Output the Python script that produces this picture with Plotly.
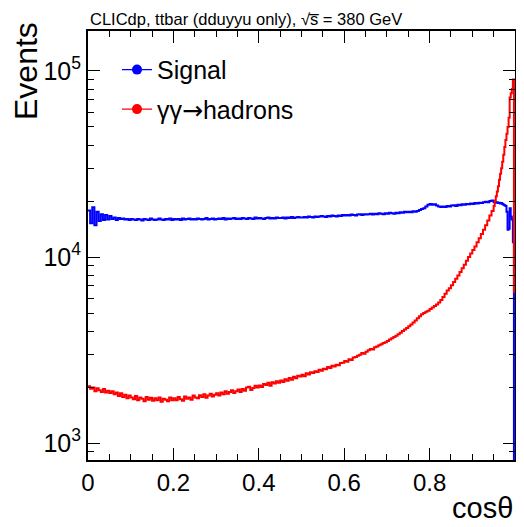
import numpy as np
import plotly.graph_objects as go

# ---- data -------------------------------------------------------------
# bin lower edges: 0.000-0.950 in steps of 0.005, then 0.950-1.000 in steps of 0.0025
bin_lo_coarse = [round(i * 0.005, 4) for i in range(190)]
bin_lo_fine = [round(0.95 + i * 0.0025, 4) for i in range(20)]
x_max = 1.0

signal_coarse = [
    17800, 15200, 18500, 14800, 17500, 15600, 17000, 15800, 16800, 15900,
    16600, 16000, 16300, 15800, 16200, 16000, 16100, 15900, 16000, 15800,
    16000, 15900, 15800, 16000, 15900, 15700, 16000, 15900, 15800, 16100,
    15900, 15800, 15900, 16100, 15900, 15800, 16000, 15900, 16100, 15800,
    16000, 15900, 16000, 15800, 16100, 15900, 16000, 16100, 15900, 16000,
    15900, 16100, 16000, 15900, 16000, 16200, 15900, 16000, 16100, 15900,
    16000, 16100, 16000, 16200, 15900, 16100, 16000, 16100, 16200, 16000,
    16100, 16000, 16200, 16100, 16000, 16200, 16100, 16000, 16300, 16100,
    16200, 16100, 16000, 16200, 16300, 16100, 16200, 16100, 16300, 16200,
    16200, 16300, 16100, 16300, 16200, 16400, 16200, 16300, 16400, 16300,
    16300, 16400, 16300, 16500, 16400, 16300, 16500, 16400, 16500, 16600,
    16500, 16400, 16600, 16500, 16700, 16600, 16500, 16700, 16600, 16800,
    16700, 16800, 16700, 16900, 16800, 16700, 16900, 17000, 16800, 17000,
    16900, 17000, 17100, 16900, 17100, 17000, 17200, 17100, 17000, 17200,
    17100, 17300, 17200, 17100, 17300, 17200, 17400, 17300, 17500, 17400,
    17500, 17400, 17600, 17500, 17700, 17900, 18100, 18300, 18700, 19100,
    19300, 19100, 19200, 18900, 18700, 18600, 18700, 18600, 18800, 18700,
    18900, 19000, 18800, 19100, 19000, 19200, 19100, 19300, 19200, 19400,
    19300, 19500, 19400, 19600, 19500, 19700, 19800, 19700, 20000, 20100,
]
signal_fine = [
    19700, 19800, 19600, 19700, 19500, 19600, 19400, 19500, 19300, 19100,
    19000, 18800, 17500, 14000, 14200, 18300, 16500, 15900, 12000, 300,
]

bkg_coarse = [
    2020, 1960, 1990, 1900, 1970, 1920, 1880, 1950, 1870, 1910,
    1860, 1900, 1830, 1870, 1790, 1850, 1770, 1820, 1740, 1800,
    1760, 1720, 1790, 1700, 1760, 1730, 1680, 1770, 1710, 1750,
    1690, 1740, 1700, 1760, 1670, 1730, 1710, 1680, 1760, 1700,
    1740, 1700, 1770, 1720, 1690, 1780, 1730, 1760, 1710, 1800,
    1760, 1740, 1810, 1770, 1830, 1750, 1800, 1840, 1780, 1820,
    1850, 1800, 1870, 1830, 1900, 1840, 1880, 1920, 1860, 1900,
    1940, 1880, 1950, 1910, 1990, 2010, 1930, 1980, 2030, 1990,
    2040, 2000, 2080, 2050, 2110, 2030, 2120, 2090, 2150, 2110,
    2170, 2130, 2200, 2160, 2240, 2190, 2270, 2230, 2300, 2280,
    2330, 2290, 2370, 2340, 2400, 2380, 2430, 2410, 2480, 2450,
    2510, 2490, 2560, 2530, 2600, 2580, 2640, 2620, 2690, 2700,
    2760, 2740, 2820, 2800, 2880, 2900, 2950, 2980, 3050, 3020,
    3100, 3150, 3200, 3180, 3270, 3300, 3360, 3400, 3450, 3480,
    3540, 3600, 3660, 3720, 3780, 3850, 3920, 4000, 4080, 4150,
    4250, 4340, 4450, 4560, 4680, 4800, 4920, 5000, 5080, 5150,
    5250, 5350, 5450, 5560, 5700, 5880, 6100, 6350, 6600, 6800,
    7050, 7350, 7650, 7950, 8300, 8700, 9100, 9550, 10000, 10450,
    10900, 11400, 12000, 12600, 13300, 14000, 14800, 15700, 16700, 17700,
]
bkg_fine = [
    18800, 20000, 21200, 22500, 24000, 26000, 28000, 30000, 32500, 35500,
    39000, 42500, 46000, 50000, 56000, 72000, 76000, 80000, 90000, 6500,
]

x_tickvals = [0, 0.2, 0.4, 0.6, 0.8, 1.0]
y_tickvals = [1e3, 1e4, 1e5]
y_ticktext = ["10<sup>3</sup>", "10<sup>4</sup>", "10<sup>5</sup>"]
y_minor = [m * 10 ** e for e in (2, 3, 4, 5) for m in range(2, 10)]

series_names = ["Signal",
                "γγ<span style='font-family:DejaVu Sans'>→</span>hadrons"]
series_colors = ["#0000ff", "#ff0000"]

# ---- build ------------------------------------------------------------
edges = bin_lo_coarse + bin_lo_fine + [x_max]
sig = signal_coarse + signal_fine
bkg = bkg_coarse + bkg_fine

FONT = "Liberation Sans, Arial, Helvetica, sans-serif"
PW = 427  # plot-area width in px
PH = 429  # plot-area height in px

fig = go.Figure()

for vals, col in [(sig, series_colors[0]), (bkg, series_colors[1])]:
    fig.add_trace(go.Scatter(
        x=edges, y=vals + [vals[-1]], mode="lines",
        line=dict(color=col, width=2, shape="hv"),
        showlegend=False, hoverinfo="skip"))

for i, (name, col) in enumerate(zip(series_names, series_colors)):
    fig.add_trace(go.Scatter(
        x=[None], y=[None], mode="lines+markers", name=name,
        legendgroup=f"g{i}",
        line=dict(color=col, width=1.3),
        marker=dict(color=col, size=10)))

# the page body adds an 8px offset and clips at its content width (508px)
fig.update_layout(
    width=508, height=519,
    margin=dict(l=80, r=1, t=23, b=67, autoexpand=False),
    paper_bgcolor="white", plot_bgcolor="white",
    font=dict(family=FONT, color="black"),
    legend=dict(x=29 / PW, y=0.963, xanchor="left", yanchor="top",
                font=dict(size=25), bgcolor="rgba(0,0,0,0)",
                tracegroupgap=4, itemwidth=30),
    xaxis=dict(range=[0, 1], showgrid=False, zeroline=False, automargin=False,
               showline=True, linecolor="black", linewidth=2, mirror="ticks",
               ticks="inside", ticklen=12, tickwidth=1.2, tickcolor="black",
               tickvals=x_tickvals, tickfont=dict(size=24),
               minor=dict(dtick=0.05, ticks="inside", ticklen=6, tickwidth=1.2,
                          tickcolor="black", showgrid=False)),
    yaxis=dict(type="log", range=[np.log10(811), np.log10(1.64e5)],
               showgrid=False, zeroline=False, automargin=False,
               showline=True, linecolor="black", linewidth=2, mirror="ticks",
               ticks="inside", ticklen=12, tickwidth=1.2, tickcolor="black",
               tickvals=y_tickvals, ticktext=y_ticktext, tickfont=dict(size=25),
               minor=dict(tickvals=y_minor, ticks="inside", ticklen=6,
                          tickwidth=1.2, tickcolor="black", showgrid=False)),
)

fig.add_annotation(text="CLICdp, ttbar (dduyyu only), √s̅ = 380 GeV",
                   xref="paper", yref="paper", x=0, y=1 + 12 / PH,
                   xanchor="left", yanchor="middle", showarrow=False,
                   font=dict(size=16.5))
fig.add_annotation(text="Events", textangle=-90,
                   xref="paper", yref="paper", x=-62 / PW, y=1 + 11 / PH,
                   xanchor="center", yanchor="top", showarrow=False,
                   font=dict(size=32))
fig.add_annotation(text="cosθ",
                   xref="paper", yref="paper", x=1.0, y=-48 / PH,
                   xanchor="right", yanchor="middle", showarrow=False,
                   font=dict(size=29))

fig.write_html("out.html")
